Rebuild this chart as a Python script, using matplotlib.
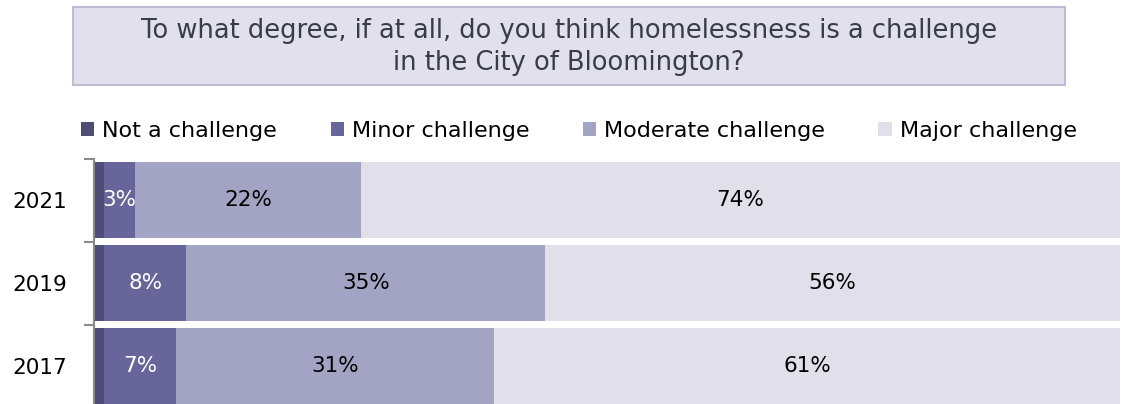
import matplotlib.pyplot as plt
from matplotlib.patches import Patch

# survey data (percent)
years = ['2021', '2019', '2017']
not_challenge = [1, 1, 1]
minor = [3, 8, 7]
moderate = [22, 35, 31]
major = [74, 56, 61]
series_names = ['Not a challenge', 'Minor challenge', 'Moderate challenge', 'Major challenge']
cols = ['#4f4c75', '#676599', '#a3a3c3', '#e0dfea']
txtcols = [None, 'white', 'black', 'black']

plt.rcParams['font.family'] = ['DejaVu Sans']

fig = plt.figure(figsize=(11.35, 4.04), dpi=100)
ax = fig.add_axes([94/1135, -3.5/404, 1026/1135, 249/404])

ypos = range(len(years))
left = [0]*len(years)
for s, vals in enumerate([not_challenge, minor, moderate, major]):
    bars = ax.barh(ypos, vals, left=left, height=0.92, color=cols[s], edgecolor='none')
    if txtcols[s] is not None:
        for b, v in zip(bars, vals):
            ax.text(b.get_x() + b.get_width()/2, b.get_y() + b.get_height()/2, str(v) + '%',
                    ha='center', va='center', fontsize=15.5, color=txtcols[s])
    left = [l + v for l, v in zip(left, vals)]

ax.set_xlim(0, 100)
ax.set_ylim(len(years) - 0.5, -0.5)
ax.set_yticks(list(ypos))
ax.set_yticklabels(years, fontsize=15.5)
ax.tick_params(axis='y', which='major', length=0, pad=19.5)
ax.set_yticks([-0.5, 0.5, 1.5, 2.5], minor=True)
ax.tick_params(axis='y', which='minor', length=7, width=1.5, color='#8a8a8a')
ax.set_xticks([])
for sp in ['top', 'right', 'bottom']:
    ax.spines[sp].set_visible(False)
ax.spines['left'].set_color('#8a8a8a')
ax.spines['left'].set_linewidth(1.5)

# legend
handles = [Patch(facecolor=c, edgecolor='none') for c in cols]
fig.legend(handles, series_names, loc='center', bbox_to_anchor=(0.510, 1 - 131/404), ncol=4,
           frameon=False, fontsize=16, handlelength=0.6, handleheight=0.6,
           handletextpad=0.36, columnspacing=2.4)

# title box
fig.text(0.5 * (73 + 1065) / 1135, 1 - 47/404,
         'To what degree, if at all, do you think homelessness is a challenge\nin the City of Bloomington?',
         ha='center', va='center', fontsize=18.5, color='#3b3b4a', linespacing=1.3)
fig.patches.append(plt.Rectangle((73/1135, 1 - 85/404), (1065 - 73)/1135, 78/404,
                                 transform=fig.transFigure, facecolor='#e1e0ec',
                                 edgecolor='#bdbcd3', linewidth=1.5, zorder=-1))

fig.savefig('out.png', dpi=100)
